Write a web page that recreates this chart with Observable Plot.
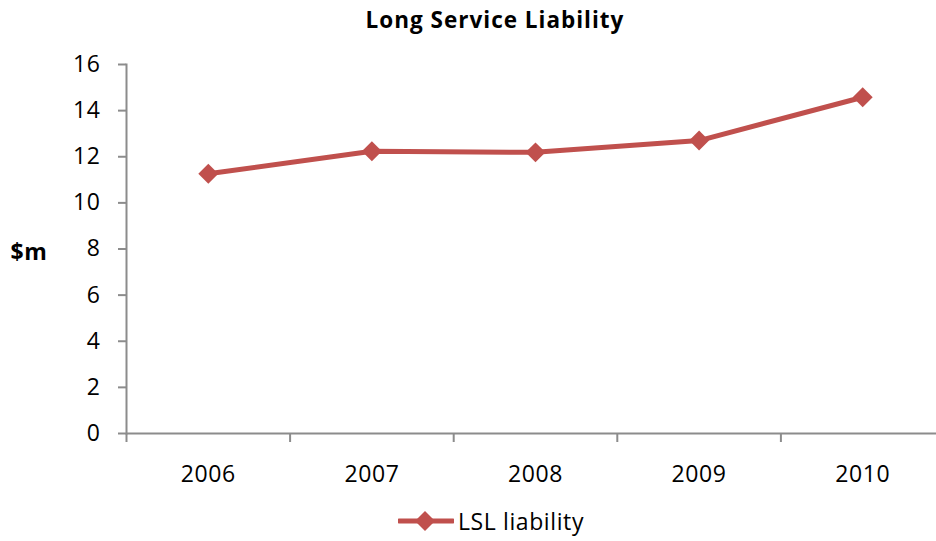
<!DOCTYPE html>
<html>
<head>
<meta charset="utf-8">
<script src="https://cdn.jsdelivr.net/npm/d3@7"></script>
<script src="https://cdn.jsdelivr.net/npm/@observablehq/plot@0.6"></script>
<style>
  html, body { margin: 0; padding: 0; background: #fff; }
  body { width: 936px; height: 541px; overflow: hidden; font-family: "Open Sans", sans-serif; color: #000; }
  #title { height: 40px; line-height: 40px; margin-left: 54px; width: 882px; text-align: center;
           font-weight: bold; font-size: 22.5px; letter-spacing: 1px; }
  #chart svg { display: block; }
  #legend { height: 41px; display: flex; align-items: center; padding-left: 398px; font-size: 23px;
            letter-spacing: 0.6px; }
  #legend svg { display: block; margin-right: 4px; }
</style>
</head>
<body>
<div id="title">Long Service Liability</div>
<div id="chart"></div>
<div id="legend"></div>
<script>
// Long service liability, $m, by year
const years = [2006, 2007, 2008, 2009, 2010];
const liability = [11.26, 12.24, 12.19, 12.70, 14.58];
const yTicks = [0, 2, 4, 6, 8, 10, 12, 14, 16];
const seriesName = "LSL liability";
const lineColor = "#C0504D";
const axisColor = "#8c8c8c";

const data = years.map((year, i) => ({year, value: liability[i]}));
// category boundaries sit halfway between years
const boundaries = d3.range(years[0] - 0.5, years[years.length - 1] + 1, 1);

const chart = Plot.plot({
  width: 936,
  height: 460,
  marginTop: 24,
  marginBottom: 67,
  marginLeft: 126,
  marginRight: 0,
  style: {fontFamily: "'Open Sans', sans-serif", fontSize: "23px", color: "#000", overflow: "visible",
          letterSpacing: "0.6px"},
  x: {type: "linear", domain: [years[0] - 0.5, years[years.length - 1] + 0.5], range: [126, 944]},
  y: {domain: [0, 16], range: [393, 24]},
  marks: [
    Plot.frame({anchor: "left", stroke: axisColor, strokeWidth: 2, strokeOpacity: 1}),
    Plot.ruleY([0], {stroke: axisColor, strokeWidth: 2}),
    Plot.axisY({ticks: yTicks, tickSize: 8, tickPadding: 18, stroke: axisColor, strokeWidth: 2,
                strokeOpacity: 1, fill: "#000", label: null}),
    Plot.axisX({ticks: boundaries, tickSize: 9, tickFormat: () => "", stroke: axisColor,
                strokeWidth: 2, strokeOpacity: 1, label: null}),
    Plot.axisX({ticks: years, tickSize: 0, tickPadding: 32, tickFormat: "d", fill: "#000", label: null}),
    Plot.text(["$m"], {frameAnchor: "left", dx: -116, dy: 4, textAnchor: "start",
                       fontWeight: "bold", fontSize: 23, fill: "#000"}),
    Plot.line(data, {x: "year", y: "value", stroke: lineColor, strokeWidth: 5}),
    Plot.dot(data, {x: "year", y: "value", symbol: "diamond2", r: 9, fill: lineColor, stroke: "none"})
  ]
});
document.getElementById("chart").appendChild(chart);

// legend: line with diamond marker, then the series name
const legend = document.getElementById("legend");
legend.innerHTML =
  `<svg width="56" height="24" viewBox="0 0 56 24">
     <line x1="1" y1="12" x2="55" y2="12" stroke="${lineColor}" stroke-width="5" stroke-linecap="round"/>
     <path d="M27,2 L37,12 L27,22 L17,12 Z" fill="${lineColor}"/>
   </svg><span>${seriesName}</span>`;
</script>
</body>
</html>
